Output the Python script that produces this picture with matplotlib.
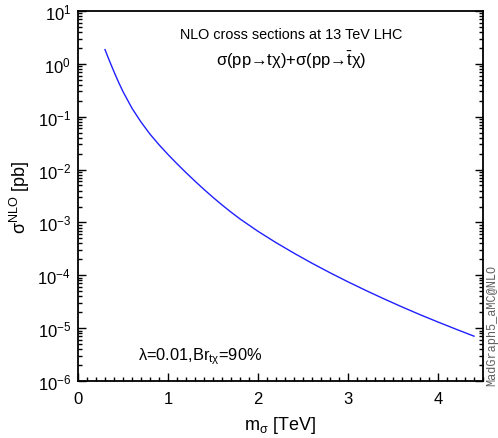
import numpy as np
import matplotlib
matplotlib.use('Agg')
from matplotlib import pyplot as plt
from matplotlib.ticker import LogLocator, MultipleLocator, NullFormatter

plt.rcParams['font.family'] = ['Liberation Sans', 'DejaVu Sans']
plt.rcParams['mathtext.fontset'] = 'custom'
plt.rcParams['mathtext.rm'] = 'Liberation Sans'
plt.rcParams['mathtext.it'] = 'Liberation Sans:italic'
plt.rcParams['mathtext.bf'] = 'Liberation Sans:bold'

# mass of sigma in TeV, NLO cross section in pb
mass = [0.3, 0.35, 0.4, 0.45, 0.5, 0.6, 0.7, 0.8, 0.9, 1.0, 1.1, 1.2, 1.3, 1.4,
        1.5, 1.6, 1.7, 1.8, 2.0, 2.2, 2.4, 2.6, 2.8, 3.0, 3.2, 3.4, 3.6, 3.8,
        4.0, 4.2, 4.4]
xsec = [1.862, 1.135, 0.708, 0.452, 0.2985, 0.1445, 0.0794, 0.0468, 0.0295,
        0.01928, 0.01288, 0.00875, 0.00603, 0.00421, 0.00298, 0.002143,
        0.001567, 0.001164, 6.79e-4, 4.15e-4, 2.62e-4, 1.69e-4, 1.117e-4,
        7.52e-5, 5.15e-5, 3.58e-5, 2.52e-5, 1.80e-5, 1.306e-5, 9.55e-6, 7.05e-6]

fig = plt.figure(figsize=(4.98, 4.39), dpi=100)
ax = fig.add_axes([78 / 498, 1 - 382 / 439, 405 / 498, 370 / 439])

ax.plot(mass, xsec, color='#2020ff', lw=1.0)

ax.set_yscale('log')
ax.set_xlim(0, 4.5)
ax.set_ylim(1e-6, 1e1)

ax.xaxis.set_major_locator(MultipleLocator(1))
ax.xaxis.set_minor_locator(MultipleLocator(0.1))
ax.yaxis.set_major_locator(LogLocator(base=10, numticks=20))
ax.yaxis.set_minor_locator(LogLocator(base=10, subs=np.arange(2, 10), numticks=20))
ax.yaxis.set_minor_formatter(NullFormatter())

ax.tick_params(which='both', direction='in', labelsize=12, width=1)
ax.tick_params(axis='y', which='both', left=True, right=True)
ax.tick_params(axis='x', which='both', top=False)
ax.tick_params(which='major', length=6)
ax.tick_params(which='minor', length=3)
ax.tick_params(axis='x', pad=7)
ax.tick_params(axis='y', pad=5)
for s in ax.spines.values():
    s.set_linewidth(1.3)

ax.set_xlabel(r'm$_{\mathrm{σ}}$ [TeV]', fontsize=13, labelpad=6)
ax.set_ylabel(r'$\mathrm{σ}^{\mathrm{NLO}}$ [pb]', fontsize=13, labelpad=4)

ax.text(0.526, 0.938, 'NLO cross sections at 13 TeV LHC', transform=ax.transAxes,
        ha='center', va='center', fontsize=10.4)
ax.text(0.526, 0.870, r'σ(pp→tχ)+σ(pp→$\bar{\mathrm{t}}$χ)', transform=ax.transAxes,
        ha='center', va='center', fontsize=12)
ax.text(0.148, 0.068, r'λ=0.01,Br$_{\mathrm{tχ}}$=90%', transform=ax.transAxes,
        ha='left', va='center', fontsize=11.8)

fig.text(492 / 498, 1 - 325 / 439, 'MadGraph5_aMC@NLO', rotation=90, ha='center',
         va='center', fontsize=8.6, family='Liberation Mono', color='#606060')

fig.savefig('out.png', dpi=100)
